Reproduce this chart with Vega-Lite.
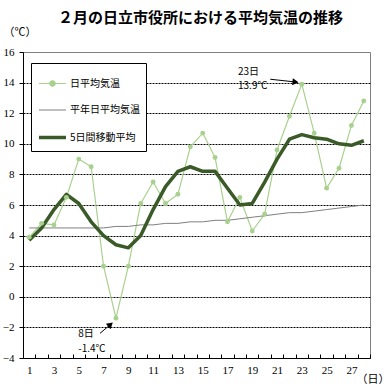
{
  "$schema": "https://vega.github.io/schema/vega-lite/v6.json",
  "width": 347,
  "height": 306,
  "autosize": {"type": "none"},
  "padding": {"left": 23, "top": 52, "right": 18, "bottom": 31},
  "background": "white",
  "title": {
    "text": "２月の日立市役所における平均気温の推移",
    "font": "Noto Sans CJK JP",
    "fontSize": 15,
    "fontWeight": "bold",
    "color": "black",
    "anchor": "middle",
    "frame": "group",
    "offset": 0,
    "dx": 4
  },
  "config": {
    "view": {"stroke": "#808080", "strokeWidth": 1},
    "axis": {
      "domainColor": "black",
      "tickColor": "black",
      "labelColor": "black",
      "labelFont": "Liberation Serif",
      "labelFontSize": 11,
      "titleFont": "Noto Sans CJK JP",
      "titleFontSize": 11,
      "titleFontWeight": "normal",
      "titleColor": "black"
    }
  },
  "datasets": {
    "temps": [
      {"day": 1, "日平均気温": 3.9, "平年日平均気温": 4.5, "5日間移動平均": 3.7},
      {"day": 2, "日平均気温": 4.8, "平年日平均気温": 4.5, "5日間移動平均": 4.5},
      {"day": 3, "日平均気温": 4.7, "平年日平均気温": 4.5, "5日間移動平均": 5.7},
      {"day": 4, "日平均気温": 6.5, "平年日平均気温": 4.5, "5日間移動平均": 6.7},
      {"day": 5, "日平均気温": 9.0, "平年日平均気温": 4.5, "5日間移動平均": 6.1},
      {"day": 6, "日平均気温": 8.5, "平年日平均気温": 4.5, "5日間移動平均": 4.9},
      {"day": 7, "日平均気温": 2.0, "平年日平均気温": 4.5, "5日間移動平均": 4.0},
      {"day": 8, "日平均気温": -1.4, "平年日平均気温": 4.6, "5日間移動平均": 3.4},
      {"day": 9, "日平均気温": 2.0, "平年日平均気温": 4.6, "5日間移動平均": 3.2},
      {"day": 10, "日平均気温": 6.1, "平年日平均気温": 4.7, "5日間移動平均": 4.0},
      {"day": 11, "日平均気温": 7.5, "平年日平均気温": 4.7, "5日間移動平均": 5.7},
      {"day": 12, "日平均気温": 6.1, "平年日平均気温": 4.8, "5日間移動平均": 7.2},
      {"day": 13, "日平均気温": 6.7, "平年日平均気温": 4.8, "5日間移動平均": 8.2},
      {"day": 14, "日平均気温": 9.8, "平年日平均気温": 4.9, "5日間移動平均": 8.5},
      {"day": 15, "日平均気温": 10.7, "平年日平均気温": 4.9, "5日間移動平均": 8.2},
      {"day": 16, "日平均気温": 9.1, "平年日平均気温": 5.0, "5日間移動平均": 8.2},
      {"day": 17, "日平均気温": 4.9, "平年日平均気温": 5.0, "5日間移動平均": 7.1},
      {"day": 18, "日平均気温": 6.5, "平年日平均気温": 5.1, "5日間移動平均": 6.0},
      {"day": 19, "日平均気温": 4.3, "平年日平均気温": 5.2, "5日間移動平均": 6.1},
      {"day": 20, "日平均気温": 5.4, "平年日平均気温": 5.3, "5日間移動平均": 7.5},
      {"day": 21, "日平均気温": 9.6, "平年日平均気温": 5.4, "5日間移動平均": 9.0},
      {"day": 22, "日平均気温": 11.8, "平年日平均気温": 5.5, "5日間移動平均": 10.3},
      {"day": 23, "日平均気温": 13.9, "平年日平均気温": 5.5, "5日間移動平均": 10.6},
      {"day": 24, "日平均気温": 10.7, "平年日平均気温": 5.6, "5日間移動平均": 10.4},
      {"day": 25, "日平均気温": 7.1, "平年日平均気温": 5.7, "5日間移動平均": 10.3},
      {"day": 26, "日平均気温": 8.4, "平年日平均気温": 5.8, "5日間移動平均": 10.0},
      {"day": 27, "日平均気温": 11.2, "平年日平均気温": 5.9, "5日間移動平均": 9.9},
      {"day": 28, "日平均気温": 12.8, "平年日平均気温": 6.0, "5日間移動平均": 10.2}
    ],
    "arrows": [
      {"day": 20.45, "temp": 14.22, "day2": 22.49, "temp2": 14.04},
      {"day": 6.71, "temp": -2.39, "day2": 7.56, "temp2": -1.81}
    ],
    "labels": [
      {"day": 17.85, "temp": 14.7, "text": "23日"},
      {"day": 17.85, "temp": 13.76, "text": "13.9℃"},
      {"day": 4.96, "temp": -2.43, "text": "8日"},
      {"day": 4.96, "temp": -3.39, "text": "-1.4℃"}
    ]
  },
  "encoding": {
    "x": {
      "field": "day",
      "type": "quantitative",
      "scale": {"domain": [0.5, 28.5], "nice": false, "zero": false},
      "axis": {
        "values": [1,2,3,4,5,6,7,8,9,10,11,12,13,14,15,16,17,18,19,20,21,22,23,24,25,26,27,28],
        "tickOffset": 6.2,
        "labelOffset": -6.2,
        "labelExpr": "datum.value % 2 == 1 ? datum.label : ''",
        "labelOverlap": false,
        "labelFlush": false,
        "grid": false,
        "tickSize": -4,
        "labelPadding": 10,
        "title": "（日）",
        "titleAlign": "left",
        "titleBaseline": "middle",
        "titleAnchor": "start",
        "titleX": 333,
        "titleY": 21
      }
    },
    "y": {
      "field": "temp",
      "type": "quantitative",
      "scale": {"domain": [-4, 16], "nice": false, "zero": false},
      "axis": {
        "values": [-4,-2,0,2,4,6,8,10,12,14,16],
        "grid": true,
        "gridColor": "black",
        "gridDash": [2, 1],
        "gridWidth": 1,
        "gridOpacity": {"condition": {"test": "datum.value === 16 || datum.value === -4", "value": 0}, "value": 1},
        "tickSize": 4,
        "labelPadding": 5,
        "title": "（℃）",
        "titleAngle": 0,
        "titleAlign": "left",
        "titleBaseline": "middle",
        "titleX": -20,
        "titleY": -20
      }
    }
  },
  "layer": [
    {
      "data": {"name": "temps"},
      "transform": [
        {"fold": ["日平均気温", "平年日平均気温", "5日間移動平均"], "as": ["series", "temp"]}
      ],
      "mark": {"type": "line", "strokeJoin": "round"},
      "encoding": {
        "color": {
          "field": "series",
          "type": "nominal",
          "scale": {
            "domain": ["日平均気温", "平年日平均気温", "5日間移動平均"],
            "range": ["#A9D18E", "#7F7F7F", "#3A5A27"]
          },
          "legend": {
            "title": null,
            "orient": "none",
            "legendX": 8,
            "legendY": 11,
            "direction": "vertical",
            "strokeColor": "black",
            "fillColor": "white",
            "padding": 6,
            "symbolType": "stroke",
            "symbolSize": 729,
            "labelFont": "Noto Sans CJK JP",
            "labelFontSize": 10,
            "labelColor": "black",
            "labelOffset": 2,
            "rowPadding": 7,
            "encode": {
              "symbols": {
                "update": {
                  "shape": {"signal": "datum.value === '日平均気温' ? 'M-1,0H1M-0.2,0A0.2,0.2,0,1,1,0.2,0A0.2,0.2,0,1,1,-0.2,0Z' : 'stroke'"},
                  "fill": {"signal": "datum.value === '日平均気温' ? '#A9D18E' : 'transparent'"},
                  "fillOpacity": {"value": 1},
                  "strokeWidth": {"signal": "datum.value === '5日間移動平均' ? 3.5 : 1.2"}
                }
              }
            }
          }
        },
        "strokeWidth": {
          "field": "series",
          "type": "nominal",
          "scale": {
            "type": "ordinal",
            "domain": ["日平均気温", "平年日平均気温", "5日間移動平均"],
            "range": [1.2, 1, 3.5]
          },
          "legend": null
        }
      }
    },
    {
      "data": {"name": "temps"},
      "transform": [
        {"fold": ["日平均気温"], "as": ["series", "temp"]}
      ],
      "mark": {"type": "point", "filled": true, "color": "#A9D18E", "size": 24, "opacity": 1}
    },
    {
      "data": {"name": "arrows"},
      "mark": {"type": "rule", "color": "black", "strokeWidth": 1},
      "encoding": {
        "x2": {"field": "day2"},
        "y2": {"field": "temp2"}
      }
    },
    {
      "data": {"values": [{"day": 22.49, "temp": 14.04}]},
      "mark": {"type": "point", "shape": "triangle-right", "filled": true, "color": "black", "size": 50, "angle": 6, "opacity": 1}
    },
    {
      "data": {"values": [{"day": 7.56, "temp": -1.81}]},
      "mark": {"type": "point", "shape": "triangle-right", "filled": true, "color": "black", "size": 50, "angle": -41, "opacity": 1}
    },
    {
      "data": {"name": "labels"},
      "mark": {"type": "text", "align": "left", "baseline": "middle", "font": "Noto Sans CJK JP", "fontSize": 10, "color": "black"},
      "encoding": {
        "text": {"field": "text", "type": "nominal"}
      }
    }
  ]
}
